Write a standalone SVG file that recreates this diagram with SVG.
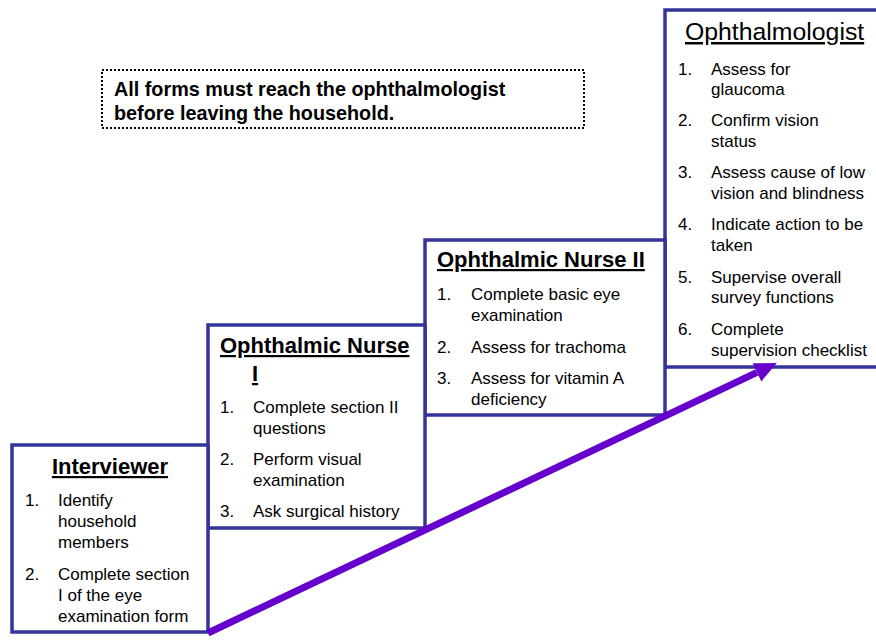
<svg xmlns="http://www.w3.org/2000/svg" width="876" height="643" viewBox="0 0 876 643">
<defs>
<style>
.box{fill:#fff;stroke:#333399;stroke-width:3.5}
.t{font-family:"Liberation Sans",Arial,sans-serif;fill:#000}
.title{font-size:22px;font-weight:bold;text-decoration:underline}
.b{font-size:17px}
.note{font-size:19.8px;font-weight:bold}
</style>
<marker id="ah" markerUnits="userSpaceOnUse" markerWidth="23" markerHeight="21" refX="0" refY="10" orient="auto">
<path d="M0,0 L22,10 L0,20 z" fill="#6600cc"/>
</marker>
</defs>
<rect width="876" height="643" fill="#fff"/>

<g id="note">
<rect x="102" y="70" width="482" height="58" fill="none" stroke="#000" stroke-width="2" stroke-dasharray="2 2"/>
<text class="t note" x="114" y="96">All forms must reach the ophthalmologist</text>
<text class="t note" x="114" y="120">before leaving the household.</text>
</g>

<g id="ophthalmologist">
<rect class="box" x="665" y="10" width="215" height="357"/>
<text class="t" x="685" y="40" style="font-size:24.8px;text-decoration:underline">Ophthalmologist</text>
<g class="t b">
<text x="678" y="75">1.</text><text x="711" y="75">Assess for</text>
<text x="711" y="95">glaucoma</text>
<text x="678" y="126">2.</text><text x="711" y="126">Confirm vision</text>
<text x="711" y="147">status</text>
<text x="678" y="178">3.</text><text x="711" y="178">Assess cause of low</text>
<text x="711" y="199">vision and blindness</text>
<text x="678" y="230">4.</text><text x="711" y="230">Indicate action to be</text>
<text x="711" y="251">taken</text>
<text x="678" y="283">5.</text><text x="711" y="283">Supervise overall</text>
<text x="711" y="303">survey functions</text>
<text x="678" y="335">6.</text><text x="711" y="335">Complete</text>
<text x="711" y="356">supervision checklist</text>
</g>
</g>

<g id="nurse2">
<rect class="box" x="425" y="240" width="240" height="175"/>
<text class="t title" x="437" y="267">Ophthalmic Nurse II</text>
<g class="t b">
<text x="437" y="300">1.</text><text x="471" y="300">Complete basic eye</text>
<text x="471" y="321">examination</text>
<text x="437" y="353">2.</text><text x="471" y="353">Assess for trachoma</text>
<text x="437" y="384">3.</text><text x="471" y="384">Assess for vitamin A</text>
<text x="471" y="405">deficiency</text>
</g>
</g>

<g id="nurse1">
<rect class="box" x="208" y="325" width="217" height="203"/>
<text class="t title" x="220" y="353">Ophthalmic Nurse</text>
<text class="t title" x="252" y="381">I</text>
<g class="t b">
<text x="220" y="413">1.</text><text x="253" y="413">Complete section II</text>
<text x="253" y="434">questions</text>
<text x="220" y="465">2.</text><text x="253" y="465">Perform visual</text>
<text x="253" y="486">examination</text>
<text x="220" y="517">3.</text><text x="253" y="517">Ask surgical history</text>
</g>
</g>

<g id="interviewer">
<rect class="box" x="12" y="445" width="196" height="187"/>
<text class="t title" x="110" y="474" text-anchor="middle">Interviewer</text>
<g class="t b">
<text x="25" y="506">1.</text><text x="58" y="506">Identify</text>
<text x="58" y="527">household</text>
<text x="58" y="548">members</text>
<text x="25" y="580">2.</text><text x="58" y="580">Complete section</text>
<text x="58" y="601">I of the eye</text>
<text x="58" y="622">examination form</text>
</g>
</g>

<g id="connectors">
<line x1="208" y1="633" x2="757" y2="372.4" stroke="#6600cc" stroke-width="7" marker-end="url(#ah)"/>
</g>
</svg>
